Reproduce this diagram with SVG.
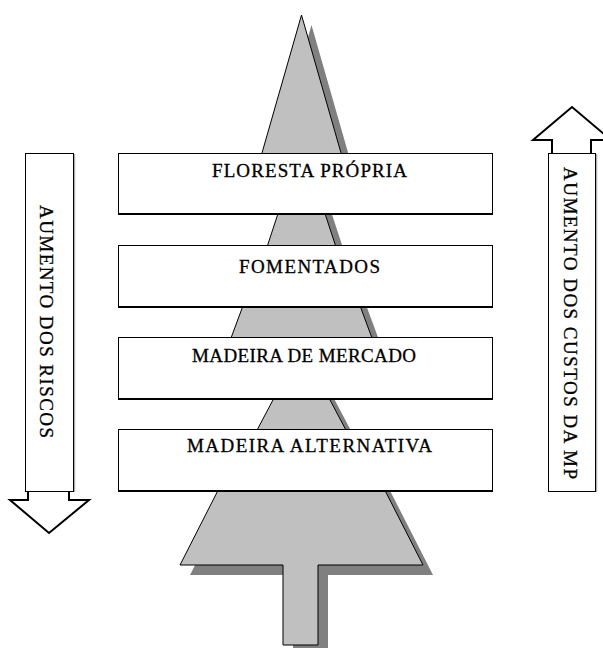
<svg xmlns="http://www.w3.org/2000/svg" width="603" height="648" viewBox="0 0 603 648">
<style>
.box{fill:#ffffff;stroke:#000;stroke-width:1}
.boxbot{stroke:#000;stroke-width:2}
.lbl{font-family:"Liberation Serif","Times New Roman",serif;font-size:19px;fill:#000;stroke:#000;stroke-width:0.3}
.arrow{fill:#ffffff;stroke:#000;stroke-width:2;stroke-linejoin:miter}
.tbox{fill:#ffffff;stroke:#000;stroke-width:1}
</style>
<defs>
<polygon id="treeShape" points="301.5,15 349.9,184 315.3,184 345.5,276 349,276 383.1,368 313.1,368 361.8,460 369.5,460 423,565 318,565 318,645 283,645 283,565 180,565 233.5,460 241.2,460 289.9,368 219.9,368 254,276 257.5,276 287.7,184 253.1,184"/>
</defs>
<g id="tree">
<use href="#treeShape" transform="translate(10,10)" fill="#808080"/>
<use href="#treeShape" fill="#c0c0c0" stroke="#000" stroke-width="1"/>
</g>
<g id="connectors">
<g id="arrow-down">
<polygon class="arrow" points="28,470 69,470 69,500 89,500 49,533 10,500 28,500"/>
</g>
<g id="arrow-up">
<polygon class="arrow" points="552,170 552,140 533,140 572,107 611,140 591,140 591,170"/>
</g>
</g>
<g id="riscos">
<line x1="74.5" y1="154" x2="74.5" y2="492" stroke="#b0b0b0" stroke-width="1.5"/>
<rect class="tbox" x="25.5" y="153.5" width="48" height="338"/>
<text class="lbl" transform="translate(40,205) rotate(90)" textLength="233" lengthAdjust="spacing">AUMENTO DOS RISCOS</text>
</g>
<g id="custos">
<line x1="596.5" y1="154" x2="596.5" y2="492" stroke="#b0b0b0" stroke-width="1.5"/>
<rect class="tbox" x="548.5" y="153.5" width="47" height="338"/>
<text class="lbl" transform="translate(564,167) rotate(90)" textLength="312" lengthAdjust="spacing">AUMENTO DOS CUSTOS DA MP</text>
</g>
<g id="floresta">
<rect class="box" x="118.5" y="153.5" width="374" height="60"/>
<line class="boxbot" x1="118" y1="214" x2="493" y2="214"/>
<text class="lbl" x="212" y="177" textLength="195" lengthAdjust="spacing">FLORESTA PRÓPRIA</text>
</g>
<g id="fomentados">
<rect class="box" x="118.5" y="245.5" width="374" height="61"/>
<line class="boxbot" x1="118" y1="307" x2="493" y2="307"/>
<text class="lbl" x="239" y="273" textLength="141" lengthAdjust="spacing">FOMENTADOS</text>
</g>
<g id="mercado">
<rect class="box" x="118.5" y="337.5" width="374" height="61"/>
<line class="boxbot" x1="118" y1="399" x2="493" y2="399"/>
<text class="lbl" x="192" y="362" textLength="224" lengthAdjust="spacing">MADEIRA DE MERCADO</text>
</g>
<g id="alternativa">
<rect class="box" x="118.5" y="429.5" width="374" height="61"/>
<line class="boxbot" x1="118" y1="491" x2="493" y2="491"/>
<text class="lbl" x="187" y="452" textLength="245" lengthAdjust="spacing">MADEIRA ALTERNATIVA</text>
</g>
</svg>
